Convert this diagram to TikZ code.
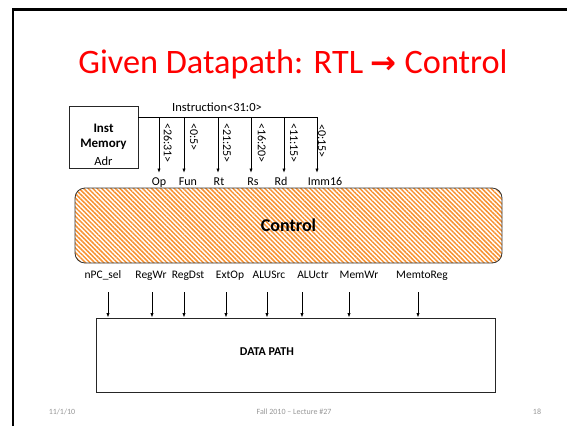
\documentclass[tikz,border=0pt]{standalone}
\usepackage{fontspec}
\setmainfont{Carlito}
\newfontfamily\arrowfont{DejaVu Sans}
\usetikzlibrary{arrows.meta,patterns.meta}
\definecolor{hatch}{RGB}{247,146,50}
\definecolor{titlered}{RGB}{255,0,0}
\definecolor{footgray}{RGB}{150,150,150}
\begin{document}
\begin{tikzpicture}[x=1pt,y=-1pt,
  wire/.style={line width=0.8pt},
  arr/.style={line width=0.8pt,-{Latex[length=4.5pt,width=3.2pt]}},
  lbl/.style={font=\fontsize{12}{13}\selectfont,inner sep=0pt,anchor=base},
  slbl/.style={font=\fontsize{11.5}{13}\selectfont,inner sep=0pt,anchor=base},
  rlbl/.style={font=\fontsize{12}{13}\selectfont,inner sep=0pt,anchor=west,rotate=-90},
  foot/.style={font=\fontsize{8}{9}\selectfont,text=footgray,inner sep=0pt,anchor=base},
  box/.style={draw=black!85,line width=0.8pt,inner sep=0pt}]
\useasboundingbox (0,0) rectangle (567,426);
% slide frame
\draw[line width=2.5pt] (13,426) -- (13,9.5) -- (567,9.5);
% title
\node[font=\fontsize{34.3}{36}\selectfont,text=titlered,inner sep=0pt,anchor=base] (title) at (293,73)
  {Given Datapath: RTL {\arrowfont\bfseries\fontsize{31}{36}\selectfont →} Control};
% instruction memory
\node[box,minimum width=69pt,minimum height=62pt] (imem) at (103.5,137) {};
\node[lbl,font=\fontsize{13}{14}\selectfont\bfseries] (im1) at (103.5,132) {Inst};
\node[lbl,font=\fontsize{13}{14}\selectfont\bfseries] (im2) at (103.5,147) {Memory};
\node[lbl,font=\fontsize{12.5}{14}\selectfont] (im3) at (103.5,165) {Adr};
% instruction bus
\coordinate (busEnd) at (317,117);
\draw[wire] (imem.east |- busEnd) -- (busEnd);
\node[lbl,font=\fontsize{12.5}{13}\selectfont] (instr) at (217,111) {Instruction<31:0>};
\coordinate (tOp) at (159,117);
\coordinate (tFun) at (184,117);
\coordinate (tRt) at (218,117);
\coordinate (tRs) at (251,117);
\coordinate (tRd) at (284,117);
\foreach \c in {tOp,tFun,tRt,tRs,tRd,busEnd}
  \draw[arr] (\c) -- ++(0,56);
\node[rlbl] (f1) at (168,123) {<26:31>};
\node[rlbl] (f2) at (194,123) {<0:5>};
\node[rlbl] (f3) at (227,123) {<21:25>};
\node[rlbl] (f4) at (262,123) {<16:20>};
\node[rlbl] (f5) at (294,123) {<11:15>};
\node[rlbl] (f6) at (322,124) {<0:15>};
\node[lbl] (Op) at (159,185) {Op};
\node[lbl] (Fun) at (188,185) {Fun};
\node[lbl] (Rt) at (219,185) {Rt};
\node[lbl] (Rs) at (253,185) {Rs};
\node[lbl] (Rd) at (281,185) {Rd};
\node[lbl] (Imm) at (325,185) {Imm16};
% control
\node[draw=black!80,line width=0.8pt,rounded corners=10pt,
  pattern={Lines[angle=-45,distance=3.2pt,line width=1.5pt]},pattern color=hatch,
  minimum width=427pt,minimum height=75pt,
  font=\fontsize{18}{20}\selectfont\bfseries] (ctrl) at (288.5,225.5) {Control};
% control signals
\node[slbl] (s1) at (103,278) {nPC\_sel};
\node[slbl] (s2) at (151,278) {RegWr};
\node[slbl] (s3) at (188,278) {RegDst};
\node[slbl] (s4) at (230,278) {ExtOp};
\node[slbl] (s5) at (269,278) {ALUSrc};
\node[slbl] (s6) at (313,278) {ALUctr};
\node[slbl] (s7) at (359,278) {MemWr};
\node[slbl] (s8) at (422,278) {MemtoReg};
% datapath
\node[box,minimum width=399pt,minimum height=74pt] (dp) at (295.5,355) {};
\node[font=\fontsize{12}{14}\selectfont\bfseries,inner sep=0pt] (dpt) at (267,352) {DATA PATH};
\coordinate (a1) at (108,292);
\coordinate (a2) at (152,292);
\coordinate (a3) at (184,292);
\coordinate (a4) at (226,292);
\coordinate (a5) at (267,292);
\coordinate (a6) at (302,292);
\coordinate (a7) at (349,292);
\coordinate (a8) at (418,292);
\foreach \c in {a1,a2,a3,a4,a5,a6,a7,a8}
  \draw[arr] (\c) -- (\c |- dp.north);
% footer
\node[foot] (date) at (62,414) {11/1/10};
\node[foot] (lect) at (294,414) {Fall 2010 -- Lecture \#27};
\node[foot] (page) at (537,414) {18};
\end{tikzpicture}
\end{document}
